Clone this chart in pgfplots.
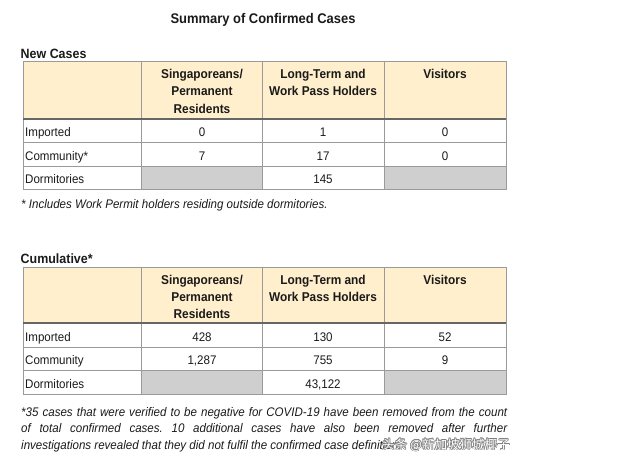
\documentclass[border=0pt]{standalone}
\usepackage{fontspec}
\setmainfont{Liberation Sans}
\newfontfamily\cjk{Noto Sans CJK SC}
\usepackage{graphicx}
\usepackage{pgfplots}
\usepackage{pgfplotstable}
\pgfplotsset{compat=1.18}
\definecolor{hdr}{HTML}{FFEFCC}
\definecolor{cellgray}{HTML}{D0CFCF}
\definecolor{rule}{HTML}{9A9A9A}
\definecolor{ink}{HTML}{1A1A1A}

% cell values: x = column centre, y = text baseline (pixels, y downwards)
\pgfplotstableread{
x   y     label
202 136.7 0
323 136.7 1
445 136.7 0
202 160.4 7
323 160.4 17
445 160.4 0
323 183.4 145
202 341.7 428
323 341.7 130
445 341.7 52
202 364.9 1,287
323 364.9 755
445 364.9 9
323 388.4 43,122
}\casedata

\newcommand\vs[1]{\scalebox{1}[1.08]{#1}}
\newcommand\body{\fontsize{11.6}{14}\selectfont}
\newcommand\hd{\fontsize{11.9}{14}\selectfont\bfseries}

% #1 top, #2 header bottom, #3 row line 1, #4 row line 2, #5 bottom
\newcommand\frametable[5]{%
  \fill[hdr] (axis cs:23,#1) rectangle (axis cs:506,#2);
  \fill[cellgray] (axis cs:141,#4) rectangle (axis cs:262,#5);
  \fill[cellgray] (axis cs:384,#4) rectangle (axis cs:506,#5);
  \draw[rule, line width=1bp] (axis cs:23,#1) rectangle (axis cs:506,#5);
  \draw[rule, line width=1bp] (axis cs:23,#3) -- (axis cs:506,#3);
  \draw[rule, line width=1bp] (axis cs:23,#4) -- (axis cs:506,#4);
  \draw[rule, line width=1bp] (axis cs:141,#1) -- (axis cs:141,#5);
  \draw[rule, line width=1bp] (axis cs:262,#1) -- (axis cs:262,#5);
  \draw[rule, line width=1bp] (axis cs:384,#1) -- (axis cs:384,#5);
  \draw[black!60, line width=1.8bp] (axis cs:23,#2) -- (axis cs:506,#2);
}
\newcommand\hdline[3]{%
  \node[anchor=base, inner sep=0, font=\hd, text=ink] at (axis cs:#1,#2) {\vs{#3}};
}
% #1 #2 #3: baselines of the three header lines
\newcommand\headers[3]{%
  \hdline{202}{#1}{Singaporeans/}
  \hdline{202}{#2}{Permanent}
  \hdline{202}{#3}{Residents}
  \hdline{323}{#1}{Long-Term and}
  \hdline{323}{#2}{Work Pass Holders}
  \hdline{445}{#1}{Visitors}
}
\newcommand\rowlabel[2]{%
  \node[anchor=base west, inner sep=0, font=\body, text=ink] at (axis cs:25,#1) {\vs{#2}};
}
\newcommand\wm[2]{%
  \node[anchor=base west, inner sep=0, font=\cjk\fontsize{12.6}{15}\selectfont, text=black!50] at (axis cs:#1,#2) {头条 @新加坡狮城椰子};
}

\begin{document}
\begin{tikzpicture}
\begin{axis}[
  width=640bp, height=464bp, scale only axis,
  xmin=0, xmax=640, ymin=0, ymax=464, y dir=reverse,
  hide axis, clip=false]
  \path (rel axis cs:0,0) rectangle (rel axis cs:1,1);

  % ---- titles
  \node[anchor=base, inner sep=0, font=\fontsize{13}{15}\selectfont\bfseries, text=ink] at (axis cs:263,24) {\vs{Summary of Confirmed Cases}};
  \node[anchor=base west, inner sep=0, font=\fontsize{12.5}{15}\selectfont\bfseries, text=ink] at (axis cs:20.5,59) {\vs{New Cases}};
  \node[anchor=base west, inner sep=0, font=\fontsize{12.5}{15}\selectfont\bfseries, text=ink] at (axis cs:20.5,263) {\vs{Cumulative*}};

  % ---- tables
  \frametable{61.7}{119}{142.3}{166}{189}
  \frametable{267.7}{323.3}{347.3}{370.5}{394}
  \headers{78.3}{95.8}{113}
  \headers{284.3}{301.5}{318.5}

  \rowlabel{136.7}{Imported}
  \rowlabel{160.4}{Community*}
  \rowlabel{183.4}{Dormitories}
  \rowlabel{341.7}{Imported}
  \rowlabel{364.9}{Community}
  \rowlabel{388.4}{Dormitories}

  % ---- values
  \addplot[draw=none, mark=none, point meta=explicit symbolic,
    nodes near coords={\vs{\pgfplotspointmeta}},
    every node near coord/.append style={font=\body, text=ink, inner sep=0, anchor=base}]
    table[x=x, y=y, meta=label] {\casedata};

  % ---- footnotes
  \node[anchor=base west, inner sep=0, font=\body\itshape, text=ink] at (axis cs:21,208.3) {\vs{* Includes Work Permit holders residing outside dormitories.}};
  \node[anchor=base west, inner sep=0, text=ink] at (axis cs:21,416.7)
    {\vs{\parbox[t]{486bp}{\fontsize{11.6}{15.1}\selectfont\itshape\frenchspacing
     *35 cases that were verified to be negative for COVID-19 have been removed from the count\linebreak
     of total confirmed cases. 10 additional cases have also been removed after further\linebreak
     investigations revealed that they did not fulfil the confirmed case definition.}}};

  % ---- watermark
  \wm{381.3}{449}\wm{382.7}{449}\wm{382}{448.3}\wm{382}{449.7}
  \wm{381.5}{448.5}\wm{382.5}{449.5}\wm{381.5}{449.5}\wm{382.5}{448.5}
  \node[anchor=base west, inner sep=0, font=\cjk\fontsize{12.6}{15}\selectfont, text=white] at (axis cs:382,449) {头条 @新加坡狮城椰子};
\end{axis}
\end{tikzpicture}
\end{document}
